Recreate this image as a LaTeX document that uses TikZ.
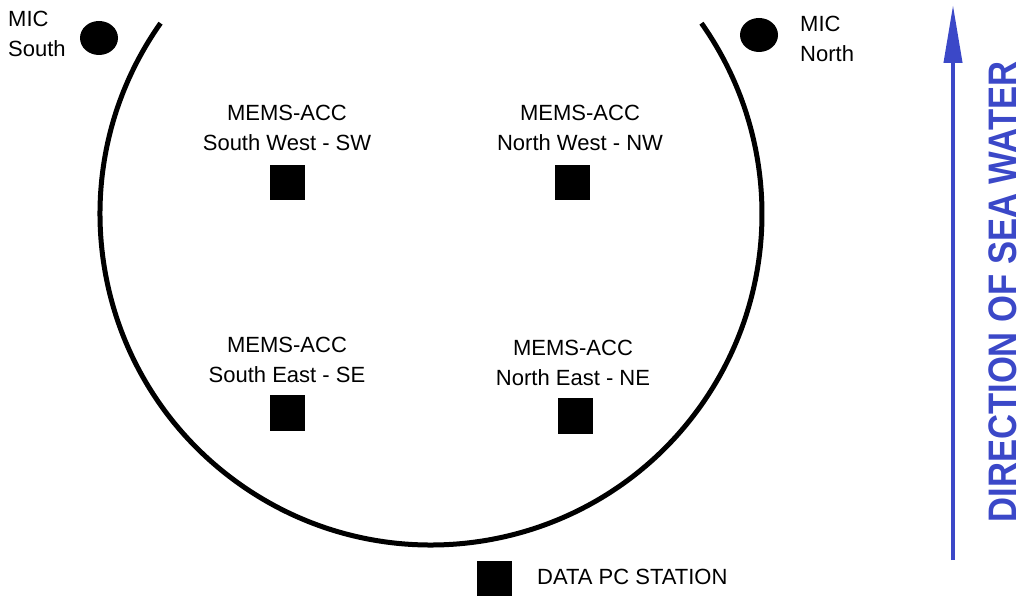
\documentclass[tikz,border=0pt]{standalone}
\usepackage{fontspec}
\setmainfont{Liberation Sans}
\usepackage{xcolor}
\usepackage{tikz}
\usetikzlibrary{arrows.meta,calc}
\definecolor{seablue}{RGB}{59,72,200}

\begin{document}
\begin{tikzpicture}[>=Latex, x=1pt, y=1pt,
    sensor/.style={fill=black, minimum size=35pt, inner sep=0pt},
    lbl/.style={font=\fontsize{22}{30}\selectfont, align=center, inner sep=0pt}]
  \useasboundingbox (0,0) rectangle (1024,597);
  \def\rr{331}
  \def\aa{144.8}
  \pgfmathsetmacro{\ab}{540-\aa}
  \coordinate (ctr) at (431,383);
  % tank wall
  \draw[line width=5pt] ($(ctr)+(\aa:\rr)$) arc[start angle=\aa, end angle=\ab, radius=\rr];
  % microphones
  \coordinate (micS) at (99,559);
  \coordinate (micN) at (759,562);
  \fill (micS) ellipse (19 and 17);
  \fill (micN) ellipse (19 and 17);
  \node[lbl, align=left, anchor=west] (micStxt) at (8,563) {MIC\\South};
  \node[lbl, align=left, anchor=west] (micNtxt) at (800,558.5) {MIC\\North};
  % accelerometers
  \node[sensor] (sw) at (287,414) {};
  \node[sensor] (nw) at (572,414) {};
  \node[sensor] (se) at (287,184) {};
  \node[sensor] (ne) at (575,181) {};
  \node[lbl] (swtxt) at (287,469) {MEMS-ACC\\South West - SW};
  \node[lbl] (nwtxt) at (580,469) {MEMS-ACC\\North West - NW};
  \node[lbl] (setxt) at (287,237) {MEMS-ACC\\South East - SE};
  \node[lbl] (netxt) at (573,234) {MEMS-ACC\\North East - NE};
  % data station
  \node[sensor] (pc) at (494,19) {};
  \node[lbl, anchor=west] (pctxt) at (537,20) {DATA PC STATION};
  % flow direction
  \coordinate (flowA) at (953,37);
  \coordinate (flowB) at (953,592);
  \draw[seablue, line width=4pt, -{Triangle[length=58pt, width=18pt]}] (flowA) -- (flowB);
  \node[seablue, rotate=90, inner sep=0pt, font=\fontsize{34.6}{40}\selectfont\bfseries]
    (flowtxt) at (1003,305) {\scalebox{1}[1.15]{DIRECTION OF SEA WATER}};
\end{tikzpicture}
\end{document}
